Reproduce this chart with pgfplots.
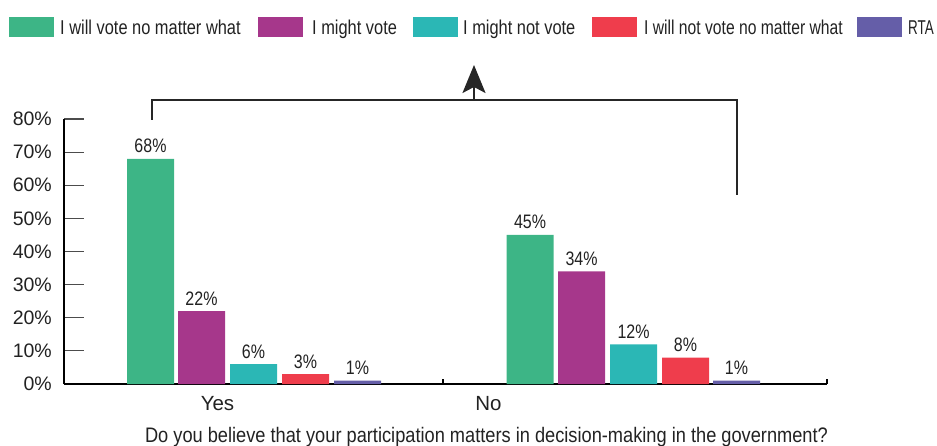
\documentclass[border=0pt]{standalone}
\usepackage{pgfplots}
\pgfplotsset{compat=1.18}
\usepackage{fontspec}
\setmainfont{Liberation Sans}[FakeStretch=0.82]
\newfontfamily\regfont{Liberation Sans}
\newfontfamily\xlfont{Liberation Sans}[FakeStretch=0.868]
\usetikzlibrary{arrows.meta}
\definecolor{cgreen}{HTML}{3DB586}
\definecolor{cpurple}{HTML}{A6378B}
\definecolor{cteal}{HTML}{2BB7B5}
\definecolor{cred}{HTML}{EF3D4C}
\definecolor{cviolet}{HTML}{655EA8}
\definecolor{ctext}{HTML}{222222}
\begin{document}
\begin{tikzpicture}[x=1pt,y=1pt]
\useasboundingbox (0,0) rectangle (937,445);
\begin{axis}[
  at={(64pt,61pt)}, anchor=south west,
  scale only axis, width=763pt, height=265pt,
  xmin=64, xmax=827, ymin=0, ymax=80,
  axis lines*=left,
  axis line style={line width=1.5pt, black},
  xtick=\empty,
  ytick={0,10,...,80},
  yticklabel={\pgfmathprintnumber{\tick}\%},
  /pgf/number format/assume math mode=true,
  yticklabel style={font=\regfont\fontsize{19.5}{20}\selectfont, text=ctext, inner sep=0pt, xshift=-12pt},
  tick align=inside, major tick length=20pt,
  ytick style={gray!60!black, line width=1.2pt},
  clip=false,
  nodes near coords={\pgfmathprintnumber{\pgfplotspointmeta}\%},
  every node near coord/.append style={anchor=base, yshift=6pt, inner sep=0pt, text=ctext, font=\fontsize{19.5}{20}\selectfont},
]
\addplot[ybar, bar width=47pt, fill=cgreen, draw=none] coordinates {(150.5,68) (530,45)};
\addplot[ybar, bar width=47pt, fill=cpurple, draw=none] coordinates {(201.5,22) (581.5,34)};
\addplot[ybar, bar width=47pt, fill=cteal, draw=none] coordinates {(253.5,6) (633.5,12)};
\addplot[ybar, bar width=47pt, fill=cred, draw=none] coordinates {(305.5,3) (685.5,8)};
\addplot[ybar, bar width=47pt, fill=cviolet, draw=none] coordinates {(357.5,1) (736.5,1)};
\draw[line width=1.5pt] (axis cs:443,0) -- (axis cs:443,1.6);
\draw[line width=1.5pt] (axis cs:827,0) -- (axis cs:827,1.6);
\node[anchor=base, yshift=-26pt, text=ctext, font=\regfont\fontsize{20.5}{22}\selectfont] at (axis cs:217.5,0) {Yes};
\node[anchor=base, yshift=-26pt, text=ctext, font=\regfont\fontsize{20.5}{22}\selectfont] at (axis cs:488.5,0) {No};
\end{axis}
% x label
\node[anchor=base, inner sep=0pt, text=ctext, font=\xlfont\fontsize{21}{24}\selectfont] at (486.5,3) {Do you believe that your participation matters in decision-making in the government?};
% bracket and arrow
\draw[line width=2pt, black!85] (152,325) -- (152,345) -- (737,345) -- (737,250);
\draw[line width=2pt, black!85, -{Stealth[length=28pt,width=23pt,inset=6pt]}] (474,345) -- (474,380);
% legend
\begin{scope}[every node/.style={anchor=base west, inner sep=0pt, text=ctext, font=\fontsize{20}{22}\selectfont}]
\fill[cgreen] (9,408) rectangle (54,428);
\node at (60,410) {I will vote no matter what};
\fill[cpurple] (258,408) rectangle (303,428);
\node at (312,410) {I might vote};
\fill[cteal] (413,408) rectangle (458,428);
\node at (463,410) {I might not vote};
\fill[cred] (592,408) rectangle (637,428);
\node at (644,410) {\scalebox{0.955}[1]{I will not vote no matter what}};
\fill[cviolet] (857,408) rectangle (902,428);
\node at (908,410) {\scalebox{0.82}[1]{RTA}};
\end{scope}
\end{tikzpicture}
\end{document}
